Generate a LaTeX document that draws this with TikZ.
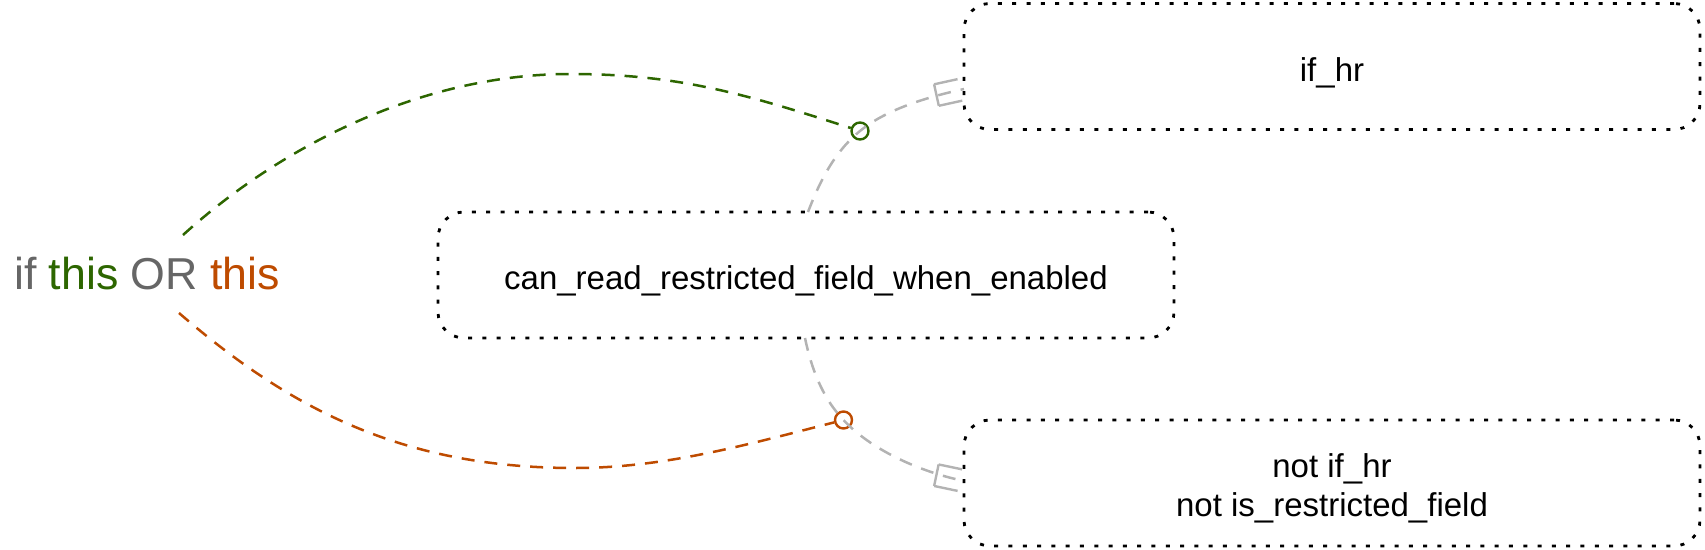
\documentclass[tikz,border=0pt]{standalone}
\usepackage{fontspec}
\setmainfont{Liberation Sans}
\usetikzlibrary{decorations.markings,calc}
\definecolor{dgreen}{RGB}{45,102,0}
\definecolor{dorange}{RGB}{190,75,0}
\definecolor{lgray}{RGB}{179,179,179}
\definecolor{tgray}{RGB}{102,102,102}
\begin{document}
\begin{tikzpicture}[x=1pt,y=-1pt,
  box/.style={draw=black, line width=2.8pt, dash pattern=on 4pt off 10.3pt,
    rounded corners=26pt, minimum width=736pt, minimum height=126pt,
    inner sep=0pt, align=center, font=\fontsize{33}{39.6}\selectfont, text=black},
  onebox/.style={box, text height=35pt, text depth=6pt},
  twobox/.style={box, text height=73.6pt, text depth=6pt},
  rel/.style={draw=lgray, line width=2.5pt, dash pattern=on 13pt off 10pt},
  gline/.style={draw=dgreen, line width=2.5pt, dash pattern=on 13pt off 10pt},
  oline/.style={draw=dorange, line width=2.5pt, dash pattern=on 13pt off 10pt},
  ring/.style={circle, draw, solid, line width=2.4pt, minimum size=17pt, inner sep=0pt},
  crowfoot/.style={postaction={decorate}, decoration={markings,
    mark=at position 0.999 with {\draw[solid, draw=lgray, line width=2.4pt]
      (-28,-11) -- (-28,11) (-28,-11) -- (-4,-11) (-28,11) -- (-4,11);}}}
]
\useasboundingbox (0,0) rectangle (1705,549);

\node[onebox] (hr) at (1332,66.5) {if\_hr};
\node[onebox] (cr) at (806,275) {can\_read\_restricted\_field\_when\_enabled};
\node[twobox] (nhr) at (1332,483) {not if\_hr\\not is\_restricted\_field};

\node[anchor=base west, inner sep=0pt, font=\fontsize{44.7}{53}\selectfont, text=tgray]
  (cond) at (14,289) {if \textcolor{dgreen}{this} OR \textcolor{dorange}{this}};

\coordinate (gs) at (183,235);
\coordinate (os) at (179,313);

\node[ring, draw=dgreen] (c1) at (860,131) {};
\node[ring, draw=dorange] (c2) at (843.5,420) {};

\draw[rel, crowfoot] ($(cr.north)+(2,1.4)$) .. controls (820.2,180.3) and (834.5,151.9) ..
  (c1.center) .. controls (887,108.8) and (928.9,96.7) .. ($(hr.west)+(1.4,22.5)$);
\draw[rel, crowfoot] ($(cr.south)+(-1,-1.4)$) .. controls (811.3,368.4) and (822.5,398.1) ..
  (c2.center) .. controls (870.4,449.2) and (919,471.6) .. ($(nhr.west)+(1.4,-2)$);

\draw[gline] (gs) .. controls (279,148) and (420,74) .. (570,74)
  .. controls (680,74) and (746.4,94.5) .. (c1);
\draw[oline] (os) .. controls (292.6,411) and (405,468) .. (575,468)
  .. controls (665,468) and (748.5,444.2) .. (c2);
\end{tikzpicture}
\end{document}
